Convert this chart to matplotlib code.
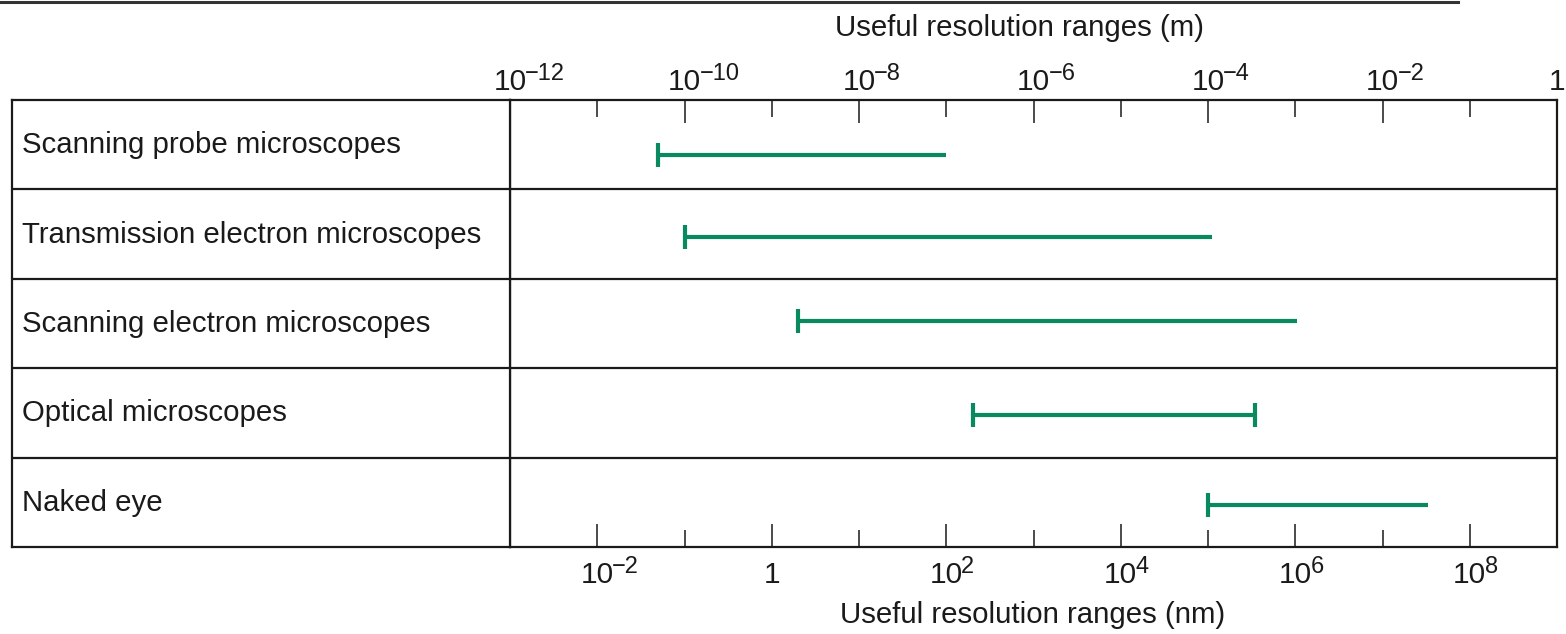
import matplotlib
matplotlib.use("Agg")
import matplotlib.pyplot as plt
import matplotlib.transforms as mtransforms
from matplotlib.lines import Line2D
from matplotlib.ticker import NullFormatter

# ---------------- data ----------------
instruments = ["Scanning probe microscopes",
               "Transmission electron microscopes",
               "Scanning electron microscopes",
               "Optical microscopes",
               "Naked eye"]
range_start_nm = [0.05, 0.1, 2.0, 200.0, 1e5]
range_end_nm = [100.0, 1.1e5, 1.05e6, 3.5e5, 3.3e7]
end_cap = [False, False, False, True, False]

bottom_major_exp = [-2, 0, 2, 4, 6, 8]          # nm, labelled
bottom_minor_exp = [-1, 1, 3, 5, 7]
top_major_exp = [-12, -10, -8, -6, -4, -2, 0]   # m, labelled
top_minor_exp = [-11, -9, -7, -5, -3, -1]

top_title = "Useful resolution ranges (m)"
bottom_title = "Useful resolution ranges (nm)"

# ---------------- style ----------------
plt.rcParams['font.family'] = ['Liberation Sans', 'DejaVu Sans']
FS = 21.2
TICK_FS = 21.5
SUP_FS = 17
TXT = '#1a1a1a'
GREEN = '#08895f'
LW_FRAME = 1.6
bar_row_offset = [0.62, 0.53, 0.47, 0.52, 0.53]
label_baseline = 0.595

W, H = 1566, 634
fig = plt.figure(figsize=(W / 100, H / 100), dpi=100)

def fx(px):
    return px / W

def fy(py):
    return 1 - py / H

x0, x1, xl = 510, 1557, 12
y0, y1 = 100, 547
ax = fig.add_axes([fx(x0), fy(y1), fx(x1 - x0), (y1 - y0) / H])
axl = fig.add_axes([fx(xl), fy(y1), fx(x0 - xl), (y1 - y0) / H])

n = len(instruments)
for a in (ax, axl):
    a.set_ylim(n, 0)
    for s in a.spines.values():
        s.set_linewidth(LW_FRAME)
        s.set_color(TXT)
    for i in range(1, n):
        a.axhline(i, color=TXT, lw=LW_FRAME)

axl.set_xlim(0, 1)
axl.set_xticks([])
axl.set_yticks([])
for i, name in enumerate(instruments):
    axl.text(0.02, i + label_baseline, name, fontsize=FS, color=TXT,
             ha='left', va='baseline')

ax.set_xscale('log')
ax.set_xlim(1e-3, 1e9)
ax.set_yticks([])
ax.set_xticks([10.0 ** e for e in bottom_major_exp])
ax.set_xticks([10.0 ** e for e in bottom_minor_exp], minor=True)
ax.xaxis.set_major_formatter(NullFormatter())
ax.xaxis.set_minor_formatter(NullFormatter())
ax.tick_params(axis='x', which='major', direction='in', length=16.5, width=1.1,
               color=TXT, top=False, bottom=True)
ax.tick_params(axis='x', which='minor', direction='in', length=12.5, width=1.1,
               color=TXT, top=False, bottom=True)

axt = ax.twiny()
axt.set_xscale('log')
axt.set_xlim(1e-12, 1)
axt.set_xticks([10.0 ** e for e in top_major_exp])
axt.set_xticks([10.0 ** e for e in top_minor_exp], minor=True)
axt.xaxis.set_major_formatter(NullFormatter())
axt.xaxis.set_minor_formatter(NullFormatter())
axt.tick_params(axis='x', which='major', direction='in', length=16.5, width=1.1,
                color=TXT)
axt.tick_params(axis='x', which='minor', direction='in', length=12.5, width=1.1,
                color=TXT)
for s in axt.spines.values():
    s.set_visible(False)

# tick labels: "10" centred on the tick, exponent hanging to the right
r = fig.canvas.get_renderer()
tmp = fig.text(0, 0, '10', fontsize=TICK_FS)
half10 = tmp.get_window_extent(r).width / 2
tmp.remove()

def label(axis, val, exp, baseline_px):
    trans = mtransforms.blended_transform_factory(axis.transData, fig.transFigure)
    yb = fy(baseline_px)
    if exp == 0:
        axis.text(val, yb, '1', transform=trans, ha='center', va='baseline',
                  fontsize=TICK_FS, color=TXT)
        return
    axis.text(val, yb, '10', transform=trans, ha='center', va='baseline',
              fontsize=TICK_FS, color=TXT)
    off = mtransforms.ScaledTranslation((half10 - 1.5) / 100, 10 / 100,
                                        fig.dpi_scale_trans)
    sup = ('\u2212' + str(-exp)) if exp < 0 else str(exp)
    axis.text(val, yb, sup, transform=trans + off, ha='left', va='baseline',
              fontsize=SUP_FS, color=TXT)

for e in bottom_major_exp:
    label(ax, 10.0 ** e, e, 583)
for e in top_major_exp:
    label(axt, 10.0 ** e, e, 90)

# bars
for i in range(n):
    y = i + bar_row_offset[i]
    ax.plot([range_start_nm[i], range_end_nm[i]], [y, y], color=GREEN, lw=3.0,
            solid_capstyle='butt')
    ax.plot([range_start_nm[i]], [y], marker='|', ms=17, mew=3.0, color=GREEN)
    if end_cap[i]:
        ax.plot([range_end_nm[i]], [y], marker='|', ms=17, mew=3.0, color=GREEN)

fig.text(fx(1020), fy(28), top_title, fontsize=FS, color=TXT, ha='center', va='center')
fig.text(fx(1033), fy(615), bottom_title, fontsize=FS, color=TXT, ha='center', va='center')

# thin rule at the very top of the image
fig.add_artist(Line2D([0, fx(1458)], [fy(2), fy(2)], color='#333333', lw=2.2))

fig.savefig('out.png', dpi=100)
